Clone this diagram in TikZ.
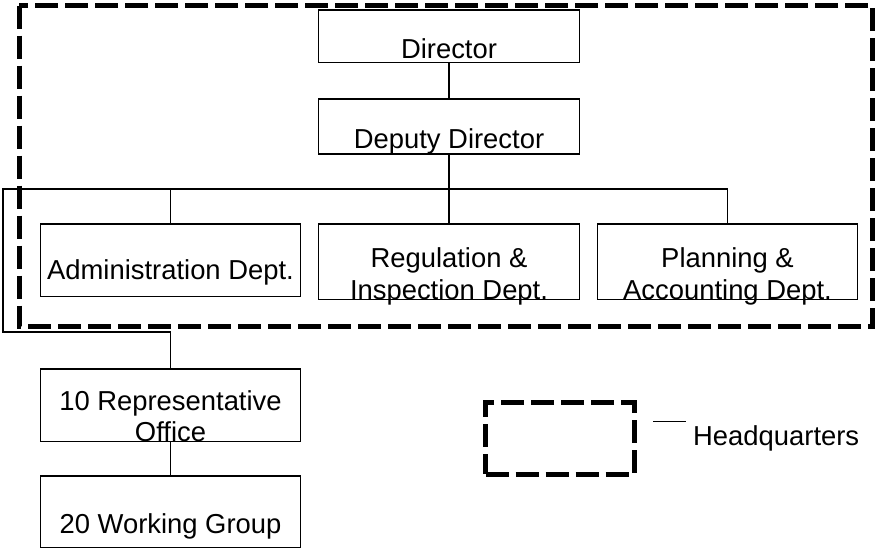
\documentclass[tikz,border=0pt]{standalone}
\usepackage{fontspec}
\setmainfont{Liberation Sans}
\usetikzlibrary{calc}

\begin{document}
\begin{tikzpicture}[x=1pt,y=-1pt,
    unit/.style={draw,line width=1.2pt,inner sep=0pt,outer sep=0pt,
        minimum width=260.5pt,align=center,anchor=north,
        font=\fontsize{27.4pt}{31.7pt}\selectfont},
    hqline/.style={line width=5pt,dash pattern=on 23pt off 7pt}]
    \useasboundingbox (0,0) rectangle (875,549);
    % headquarters frame
    \draw[hqline] (19,5.5) rectangle (872.5,326.5);
    \node[unit,text height=48pt,text depth=4.5pt] (dir) at (449,10) {Director};
    \node[unit,text height=49.3pt,text depth=5.7pt] (dep) at (449,99) {Deputy Director};
    \node[unit,text height=55.3pt,text depth=17.2pt] (adm) at (170.5,224) {Administration Dept.};
    \node[unit,text height=75.5pt,text depth=-3pt] (reg) at (449,224) {Regulation \&\\Inspection Dept.};
    \node[unit,text height=75.5pt,text depth=-3pt] (pla) at (727.5,224) {Planning \&\\Accounting Dept.};
    \node[unit,text height=72.7pt,text depth=-1.7pt] (rep) at (170.5,369) {10 Representative\\Office};
    \node[unit,text height=57.3pt,text depth=14.2pt] (wrk) at (170.5,476) {20 Working Group};
    \coordinate (busL) at (3,189);
    \coordinate (loop) at (3,332);
    \draw[line width=1.2pt] (dir.south) -- (dep.north);
    \draw[line width=1.2pt] (dep.south) -- (reg.north);
    \draw[line width=1.2pt] (adm.north) |- (busL) -- (loop) -| (rep.north);
    \draw[line width=1.2pt] (busL) -| (pla.north);
    \draw[line width=1.2pt] (rep.south) -- (wrk.north);
    % key
    \node[draw,hqline,inner sep=0pt,minimum width=148.5pt,minimum height=71.5pt,anchor=north west] (key) at (483,400) {};
    \node[inner sep=0pt,anchor=base west,font=\fontsize{27.4pt}{31.7pt}\selectfont] (hqtext) at (693,445) {Headquarters};
    \draw[line width=1.2pt] ([shift={(-40pt,23.3pt)}]hqtext.base west) -- ++(33,0);
\end{tikzpicture}
\end{document}
